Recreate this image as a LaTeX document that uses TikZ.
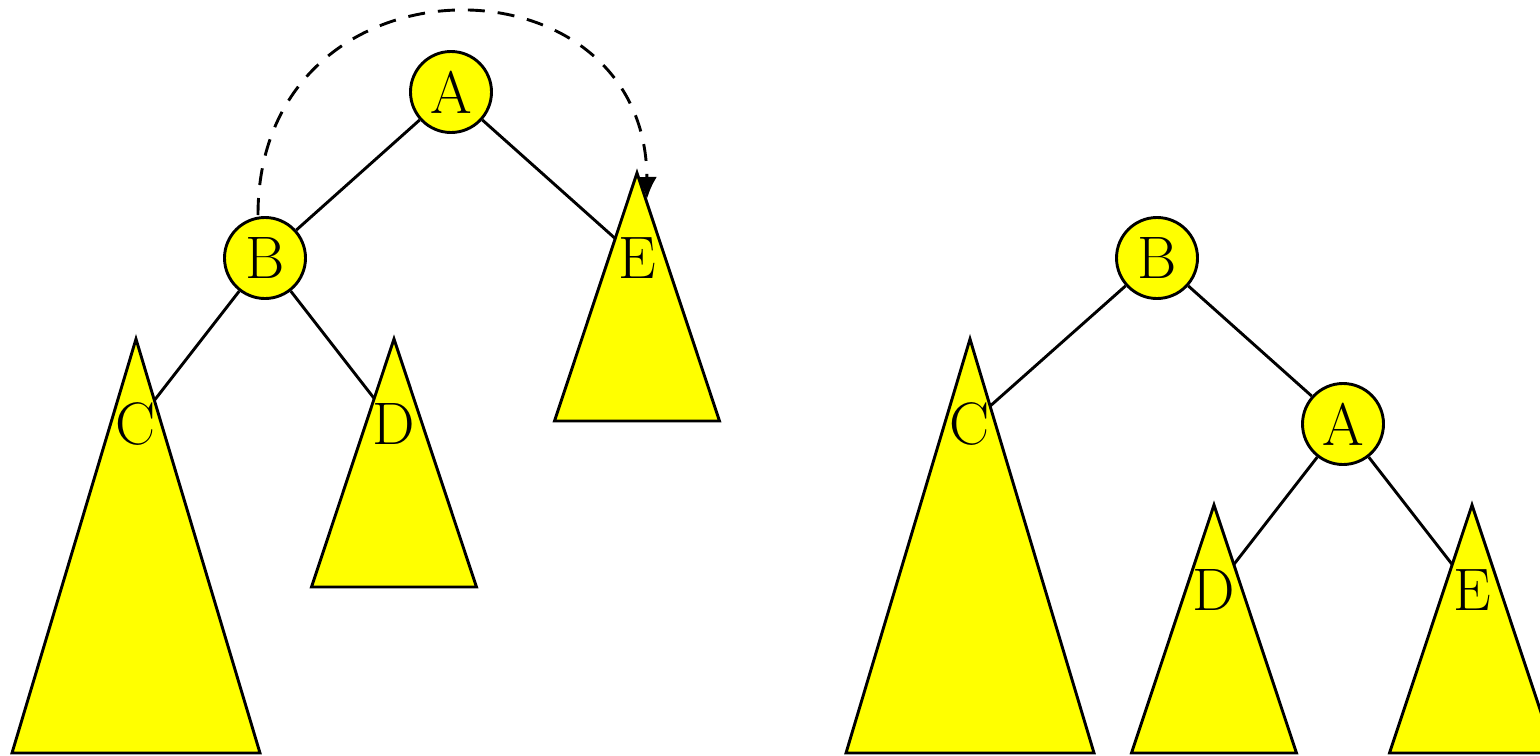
\documentclass[tikz,border=0pt]{standalone}
\usetikzlibrary{arrows.meta}
\definecolor{pureyellow}{RGB}{255,255,0}
\begin{document}
\begin{tikzpicture}[x=0.5pt,y=-0.5pt, line width=1.45pt,
  every node/.style={font=\fontsize{30}{36}\selectfont},
  tnode/.style={circle, draw, fill=pureyellow, minimum size=40.5pt, inner sep=0pt},
  tri/.style={draw, fill=pureyellow, line join=miter},
  lbl/.style={inner sep=0pt},
  link/.style={draw}
]
\useasboundingbox (0,0) rectangle (1540,755);
% move arrow (drawn first, triangles cover it)
\coordinate (arrS) at (258,215);
\coordinate (arrE) at (647,199);
\draw[dash pattern=on 8.5pt off 6.5pt, -{Latex[length=11pt,width=10pt]}]
  (arrS) .. controls (258,-52) and (646,-52) .. (arrE);
% subtrees (left tree)
\filldraw[tri] (136,339) -- (260,753) -- (12,753) -- cycle;
\filldraw[tri] (394,339) -- (476.5,587) -- (311.5,587) -- cycle;
\filldraw[tri] (637,173) -- (719.5,421) -- (554.5,421) -- cycle;
% subtrees (right tree)
\filldraw[tri] (970,339) -- (1094,753) -- (846,753) -- cycle;
\filldraw[tri] (1214,505) -- (1296.5,753) -- (1131.5,753) -- cycle;
\filldraw[tri] (1472,505) -- (1554.5,753) -- (1389.5,753) -- cycle;
% left tree nodes
\node[tnode] (A1) at (451,92) {A};
\node[tnode] (B1) at (265,258) {B};
\node[lbl] (C1) at (136,424) {C};
\node[lbl] (D1) at (394,424) {D};
\node[lbl] (E1) at (637,258) {E};
% right tree nodes
\node[tnode] (B2) at (1157,258) {B};
\node[tnode] (A2) at (1343,424) {A};
\node[lbl] (C2) at (970,424) {C};
\node[lbl] (D2) at (1214,590) {D};
\node[lbl] (E2) at (1472,590) {E};
% border points of subtrees
\coordinate (eC1) at (154.4,400.3);
\coordinate (eD1) at (374.2,398.5);
\coordinate (eE1) at (615.2,238.5);
\coordinate (eC2) at (990.2,406);
\coordinate (eD2) at (1233.8,564.5);
\coordinate (eE2) at (1452.2,564.5);
% edges
\draw[link] (A1) -- (B1);
\draw[link] (A1) -- (eE1);
\draw[link] (B1) -- (eC1);
\draw[link] (B1) -- (eD1);
\draw[link] (B2) -- (eC2);
\draw[link] (B2) -- (A2);
\draw[link] (A2) -- (eD2);
\draw[link] (A2) -- (eE2);
\end{tikzpicture}
\end{document}
